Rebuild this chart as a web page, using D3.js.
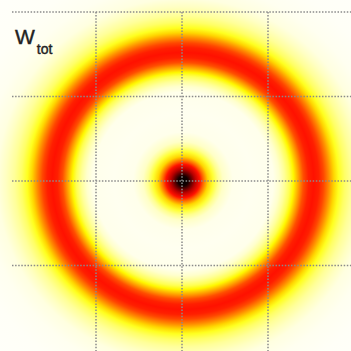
<!DOCTYPE html>
<html>
<head>
<meta charset="utf-8">
<script src="https://cdn.jsdelivr.net/npm/d3@7"></script>
<style>
  html, body { margin: 0; padding: 0; background: #fff; }
  svg { display: block; }
</style>
</head>
<body>
<div id="chart"></div>
<script>
// radial profile of W_tot (radius in axis units)
const profileR = [0, 0.058, 0.093, 0.14, 0.198, 0.233, 0.29, 0.35, 0.407, 0.465, 0.58, 0.8, 1.05, 1.12, 1.18, 1.24, 1.285, 1.345, 1.4, 1.46, 1.52, 1.58, 1.635, 1.695, 1.755, 1.81, 1.88, 1.96, 2.06, 2.16, 2.34, 2.6, 3.1];
const profileW = [1.0, 0.97, 0.87, 0.73, 0.6, 0.48, 0.31, 0.2, 0.11, 0.055, 0.02, 0.015, 0.02, 0.05, 0.1, 0.17, 0.26, 0.39, 0.51, 0.58, 0.6, 0.58, 0.52, 0.42, 0.31, 0.22, 0.15, 0.1, 0.06, 0.03, 0.015, 0.008, 0.005];

const xGrid = [-1, 0, 1];
const yGrid = [-1, 0, 1, 2];

const width = 351;
const height = 351;

const x = d3.scaleLinear().domain([-1, 1]).range([96, 268]);
const y = d3.scaleLinear().domain([-1, 1]).range([265.5, 96.5]);

// reversed "hot" colormap
const color = d3.scaleLinear()
  .domain([0, 0.25, 0.625, 1])
  .range(['#ffffff', '#ffff00', '#ff0000', '#000000'])
  .clamp(true);

const rMax = d3.max(profileR);

const svg = d3.select('#chart')
  .append('svg')
  .attr('width', width)
  .attr('height', height);

const grad = svg.append('defs')
  .append('radialGradient')
  .attr('id', 'wtot')
  .attr('cx', 0.5).attr('cy', 0.5).attr('r', 0.5);

grad.selectAll('stop')
  .data(profileR)
  .enter()
  .append('stop')
  .attr('offset', d => d / rMax)
  .attr('stop-color', (d, i) => color(profileW[i]));

svg.append('rect')
  .attr('width', width)
  .attr('height', height)
  .attr('fill', color(profileW[profileW.length - 1]));

svg.append('ellipse')
  .attr('cx', x(0) + 1)
  .attr('cy', y(0))
  .attr('rx', x(rMax) - x(0))
  .attr('ry', y(0) - y(rMax))
  .attr('fill', 'url(#wtot)');

// dotted grid
const gridColor = '#8a8a8a';
svg.selectAll('.hgrid')
  .data(yGrid)
  .enter()
  .append('line')
  .attr('class', 'hgrid')
  .attr('x1', 12).attr('x2', width)
  .attr('y1', d => y(d)).attr('y2', d => y(d))
  .attr('stroke', gridColor)
  .attr('stroke-width', 1.5)
  .attr('stroke-dasharray', '1.5,1.6');

svg.selectAll('.vgrid')
  .data(xGrid)
  .enter()
  .append('line')
  .attr('class', 'vgrid')
  .attr('x1', d => x(d)).attr('x2', d => x(d))
  .attr('y1', y(2)).attr('y2', height)
  .attr('stroke', gridColor)
  .attr('stroke-width', 1.5)
  .attr('stroke-dasharray', '1.5,1.6');

// label
const label = svg.append('text')
  .attr('x', 15)
  .attr('y', 44)
  .attr('font-family', 'Liberation Sans, Arial, sans-serif')
  .attr('fill', '#222')
  .attr('stroke', '#222')
  .attr('stroke-width', 0.4)
  .attr('font-size', 21);
label.append('tspan').text('W');
label.append('tspan')
  .attr('font-size', 14)
  .attr('dx', 2)
  .attr('dy', 10)
  .text('tot');
</script>
</body>
</html>
